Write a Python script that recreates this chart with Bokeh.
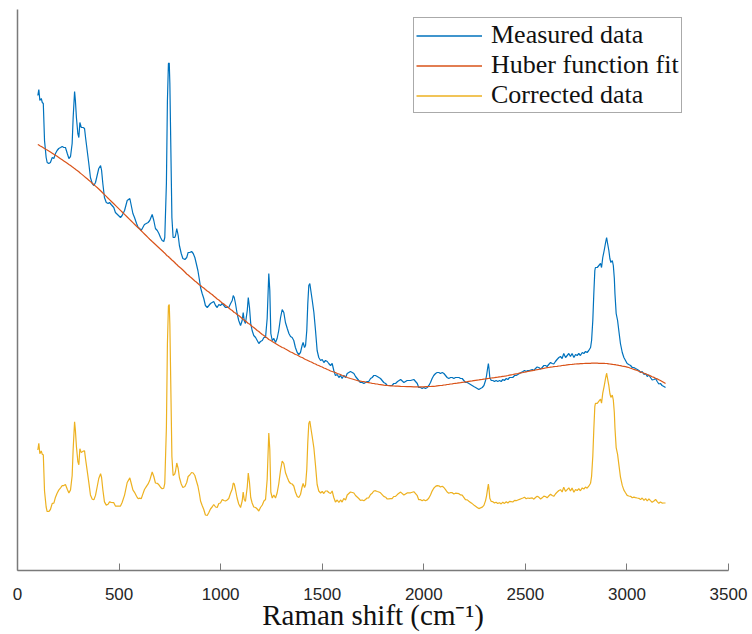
import numpy as np
from bokeh.plotting import figure
from bokeh.models import Range1d, FixedTicker, Legend, LegendItem
from bokeh.embed import file_html
from bokeh.resources import INLINE

# Raman spectrum: raw measurement, robust (Huber) baseline, and corrected spectrum
wavenumber = [
    100, 105, 110, 117, 122, 127, 133, 141, 146, 154, 162, 171, 179, 187, 195, 203, 212, 220, 228, 236,
    245, 253, 261, 269, 274, 281, 285, 290, 297, 302, 307, 314, 323, 330, 335, 343, 351, 359, 368, 376,
    384, 392, 400, 409, 414, 420, 428, 437, 446, 453, 461, 474, 482, 492, 507, 515, 527, 540, 553, 560,
    568, 576, 586, 594, 602, 609, 617, 625, 634, 643, 651, 663, 671, 679, 688, 696, 704, 712, 720, 725,
    733, 738, 743, 747, 750, 755, 760, 766, 774, 778, 784, 791, 797, 806, 814, 824, 833, 840, 848, 857,
    865, 873, 880, 888, 896, 901, 909, 917, 925, 934, 942, 950, 958, 966, 975, 983, 991, 999, 1008, 1016,
    1024, 1032, 1040, 1049, 1057, 1062, 1067, 1073, 1081, 1089, 1098, 1106, 1111, 1116, 1122, 1131, 1136, 1142, 1148, 1155,
    1163, 1172, 1180, 1188, 1196, 1205, 1213, 1221, 1229, 1237, 1242, 1247, 1254, 1262, 1270, 1278, 1286, 1295, 1303, 1311,
    1319, 1328, 1336, 1344, 1352, 1360, 1368, 1377, 1385, 1393, 1401, 1406, 1413, 1418, 1424, 1429, 1434, 1439, 1446, 1451,
    1459, 1467, 1475, 1483, 1492, 1500, 1508, 1516, 1525, 1532, 1541, 1549, 1557, 1565, 1574, 1582, 1590, 1598, 1606, 1615,
    1623, 1631, 1639, 1648, 1656, 1664, 1672, 1680, 1688, 1697, 1705, 1713, 1721, 1729, 1738, 1746, 1754, 1762, 1771, 1779,
    1787, 1795, 1803, 1812, 1820, 1828, 1836, 1844, 1852, 1861, 1871, 1886, 1902, 1918, 1935, 1951, 1968, 1975, 1984, 1992,
    2000, 2008, 2017, 2025, 2033, 2041, 2049, 2058, 2066, 2074, 2082, 2091, 2099, 2107, 2115, 2123, 2132, 2140, 2148, 2156,
    2164, 2173, 2181, 2189, 2197, 2205, 2214, 2222, 2230, 2238, 2246, 2255, 2263, 2271, 2279, 2288, 2296, 2304, 2309, 2314,
    2318, 2321, 2325, 2332, 2340, 2348, 2356, 2364, 2373, 2381, 2389, 2397, 2406, 2414, 2422, 2430, 2438, 2447, 2455, 2463,
    2471, 2479, 2488, 2496, 2504, 2512, 2520, 2534, 2542, 2550, 2558, 2566, 2575, 2583, 2591, 2599, 2607, 2615, 2624, 2632,
    2640, 2648, 2656, 2665, 2673, 2681, 2689, 2698, 2706, 2714, 2722, 2730, 2739, 2747, 2755, 2763, 2771, 2780, 2788, 2796,
    2804, 2812, 2821, 2826, 2832, 2837, 2842, 2845, 2854, 2862, 2870, 2875, 2881, 2888, 2895, 2900, 2904, 2911, 2916, 2921,
    2928, 2933, 2938, 2941, 2947, 2954, 2960, 2968, 2977, 2985, 2993, 3001, 3009, 3018, 3026, 3034, 3042, 3051, 3059, 3067,
    3075, 3084, 3092, 3100, 3108, 3116, 3124, 3133, 3141, 3149, 3157, 3165, 3173, 3182, 3190,
]

measured = [
    475, 481, 470, 472, 468, 467, 430, 413, 408, 407, 408, 413, 412, 417, 420, 422, 423, 424, 423, 423,
    417, 412, 414, 427, 453, 479, 470, 453, 437, 433, 448, 443, 443, 442, 433, 420, 407, 393, 387, 385,
    388, 395, 402, 405, 400, 387, 373, 368, 367, 368, 366, 363, 358, 356, 353, 355, 360, 370, 372, 365,
    357, 353, 347, 343, 342, 340, 343, 346, 347, 348, 350, 356, 350, 342, 340, 337, 333, 330, 329, 333,
    387, 470, 507, 507.5, 487, 420, 353, 333, 333, 335, 342, 335, 325, 317, 312, 311, 313, 318, 318, 319,
    317, 313, 307, 300, 290, 283, 277, 272, 265, 263, 265, 267, 268, 269, 265, 263, 266, 265, 267, 265,
    263, 263, 263, 267, 270, 275, 273, 267, 257, 250, 245, 250, 258, 250, 247, 260, 273, 263, 247, 240,
    235, 233, 230, 227, 229, 230, 233, 233, 252, 297, 280, 237, 230, 232, 228, 232, 240, 253, 261, 258,
    248, 242, 237, 234, 233, 230, 223, 218, 216, 218, 225, 228, 223, 225, 240, 267, 285, 287, 277, 270,
    258, 240, 220, 213, 210, 211, 208, 210, 209, 207, 205, 207, 200, 195, 196, 193, 195, 192, 195, 193,
    197, 198, 199, 198, 197, 194, 192, 190, 188, 188, 187, 188, 189, 189, 192, 193, 195, 195, 194, 193,
    192, 190, 188, 187, 185, 185, 185, 185, 187, 187, 189, 191, 188, 190, 190, 191, 187, 183, 183, 182,
    183, 182, 183, 185, 188, 192, 195, 197, 198, 198, 197, 198, 197, 195, 193, 192, 193, 193, 192, 193,
    193, 193, 192, 192, 190, 188, 188, 187, 186, 185, 184, 183, 182, 181, 182, 183, 185, 190, 195, 202,
    207, 202, 193, 190, 190, 189, 190, 189, 190, 189, 191, 190, 192, 191, 193, 193, 193, 195, 195, 196,
    197, 198, 199, 200, 199, 200, 200, 201, 200, 202, 203.5, 203, 201.5, 203, 205, 205, 204, 206, 208, 207,
    206.5, 209, 211, 213, 214, 212, 217, 213, 215, 217, 214, 217, 213, 216, 215, 217, 215, 218, 217, 219,
    218, 220, 223, 230, 250, 277, 300, 303, 303, 305, 307, 303, 313, 320, 328, 333, 328, 320, 312, 308,
    310, 305, 292, 277, 257, 250, 240, 227, 218, 213, 210, 207, 206, 205, 203, 203, 202, 201, 200, 198,
    199, 196, 197, 194, 195.5, 193, 190.5, 191, 192, 189, 186.5, 187, 185, 184, 183,
]

baseline = [
    426, 425.4, 424.8, 424, 423.4, 422.8, 422, 421, 420.5, 419.5, 418.5, 417.3, 416.2, 415.2, 414.2, 413.1, 411.8, 410.7, 409.6, 408.5,
    407.2, 406, 404.9, 403.7, 403, 401.9, 401.3, 400.5, 399.5, 398.7, 397.8, 396.6, 395.1, 393.9, 393, 391.7, 390.3, 388.9, 387.3, 385.8,
    384.4, 383, 381.5, 379.7, 378.7, 377.5, 375.9, 374.1, 372.3, 370.9, 369.3, 366.7, 365.1, 363.1, 360.1, 358.5, 356.1, 353.5, 350.9, 349.5,
    347.9, 346.3, 344.3, 342.7, 341.1, 339.7, 338.1, 336.5, 334.7, 332.9, 331.3, 329, 327.5, 326, 324.3, 322.8, 321.2, 319.7, 318.2, 317.3,
    315.5, 314.5, 314, 313, 312.5, 311.5, 310.5, 309.5, 308, 307, 306, 304.5, 303.5, 302, 300.5, 298.5, 296.5, 295.5, 294, 292.5,
    291, 289.5, 288.5, 287, 285.5, 285, 283.5, 282.5, 281, 279.5, 278.5, 277, 276, 274.5, 273, 271.5, 270.5, 269, 267.5, 266.5,
    265, 264, 262.5, 261, 260, 259, 258, 257.5, 256, 255, 253.5, 252, 251, 250.5, 249.5, 248, 247, 246.5, 245.5, 244,
    243, 241.5, 240, 239, 237.5, 236, 235, 233.5, 232.5, 231, 230.5, 230, 229, 228, 227, 226, 225, 224, 223, 222.5,
    221.5, 220.5, 219.5, 218.5, 218, 217, 216, 215.5, 214.5, 213.5, 213, 212.5, 211.5, 211, 210.5, 210, 209.5, 209, 208.5, 208,
    207, 206.5, 205.5, 205, 204, 203.5, 202.5, 202, 201, 200.5, 199.5, 199, 198.5, 198, 197, 196.5, 196, 195, 194.5, 194,
    193, 192.5, 192, 191.5, 191, 190.5, 190, 189.5, 189.3, 189, 188.8, 188.5, 188, 187.8, 187.5, 187.2, 187, 186.7, 186.5, 186,
    185.8, 185.6, 185.4, 185.2, 185, 184.8, 184.7, 184.6, 184.5, 184.4, 184.3, 184.1, 184, 183.9, 183.8, 183.7, 183.7, 183.7, 183.7, 183.7,
    183.7, 183.8, 183.9, 184, 184, 184.1, 184.2, 184.4, 184.6, 184.8, 185, 185.2, 185.5, 185.7, 186, 186.2, 186.5, 186.7, 187, 187.2,
    187.4, 187.7, 187.9, 188.2, 188.4, 188.7, 188.9, 189.2, 189.4, 189.6, 189.9, 190.2, 190.4, 190.6, 190.9, 191.1, 191.4, 191.6, 191.8, 191.9,
    192, 192.1, 192.2, 192.5, 192.7, 192.9, 193.2, 193.4, 193.7, 193.9, 194.2, 194.4, 194.7, 195, 195.4, 195.7, 196, 196.4, 196.7, 197,
    197.4, 197.7, 198, 198.3, 198.7, 199, 199.3, 199.9, 200.2, 200.5, 200.8, 201.1, 201.5, 201.8, 202.1, 202.5, 202.8, 203, 203.3, 203.5,
    203.8, 204, 204.2, 204.5, 204.7, 205, 205.2, 205.4, 205.6, 205.8, 206, 206.1, 206.3, 206.5, 206.6, 206.7, 206.8, 206.9, 207, 207.1,
    207.2, 207.2, 207.2, 207.3, 207.3, 207.3, 207.3, 207.3, 207.3, 207.2, 207.2, 207.2, 207.1, 207.1, 207, 207, 206.9, 206.7, 206.5, 206.4,
    206.2, 206, 205.8, 205.8, 205.6, 205.4, 205.1, 204.8, 204.4, 204.1, 203.8, 203.4, 203, 202.3, 201.7, 201.1, 200.6, 200, 199.3, 198.6,
    198, 197.3, 196.6, 196, 195.3, 194.6, 193.8, 193.1, 192.3, 191.6, 190.8, 190, 189.1, 188, 187,
]

# corrected spectrum = measured - baseline, shifted up for display
display_offset = 71.5
corrected = np.array(measured) - np.array(baseline) + display_offset

x_ticks = [0, 500, 1000, 1500, 2000, 2500, 3000, 3500]
series_labels = ["Measured data", "Huber function fit", "Corrected data"]
x_title = "Raman shift (cm\u207b\u00b9)"

blue = "#0072BD"
orange = "#D95319"
yellow = "#EDB120"
axis_gray = "#7a7a7a"

p = figure(
    width=752, height=634,
    output_backend="svg", toolbar_location=None,
    x_range=Range1d(0, 3500), y_range=Range1d(0, 561),
    min_border_left=17, min_border_right=24, min_border_top=9, min_border_bottom=64,
)
p.outline_line_color = None
p.grid.visible = False
p.background_fill_color = "white"
p.border_fill_color = "white"

r_meas = p.line(wavenumber, measured, line_color=blue, line_width=1.2)
r_fit = p.line(wavenumber, baseline, line_color=orange, line_width=1.2)
r_corr = p.line(wavenumber, corrected, line_color=yellow, line_width=1.2)

# legend swatches: one-point (NaN) line renderers carrying the series colours
swatches = [p.line([np.nan], [np.nan], line_color=c, line_width=1.3) for c in (blue, orange, yellow)]

xa = p.xaxis[0]
xa.ticker = FixedTicker(ticks=x_ticks)
xa.minor_tick_line_color = None
xa.major_tick_in = 7
xa.major_tick_out = 0
xa.major_tick_line_color = axis_gray
xa.major_tick_line_width = 1
xa.axis_line_color = axis_gray
xa.axis_line_width = 1.5
xa.major_label_text_font = "Liberation Sans"
xa.major_label_text_font_size = "17px"
xa.major_label_text_color = "#262626"
xa.major_label_standoff = 17
xa.axis_label = x_title
xa.axis_label_text_font = "Liberation Serif"
xa.axis_label_text_font_style = "normal"
xa.axis_label_text_font_size = "29px"
xa.axis_label_text_color = "#111111"
xa.axis_label_standoff = -4

ya = p.yaxis[0]
ya.ticker = FixedTicker(ticks=[])
ya.minor_tick_line_color = None
ya.major_tick_line_color = None
ya.major_label_text_font_size = "0px"
ya.axis_line_color = axis_gray
ya.axis_line_width = 1.5

legend = Legend(
    items=[LegendItem(label=lab, renderers=[sw]) for lab, sw in zip(series_labels, swatches)],
    location=(396, 457),
    label_text_font="Liberation Serif",
    label_text_font_size="26px",
    label_text_color="#111111",
    glyph_width=66, glyph_height=29, label_height=29,
    label_standoff=9, padding=2, spacing=0, margin=0,
    border_line_color="#555555", border_line_width=1,
    background_fill_color="white", background_fill_alpha=1,
)
p.add_layout(legend)

open("out.html", "w").write(file_html(p, INLINE))
